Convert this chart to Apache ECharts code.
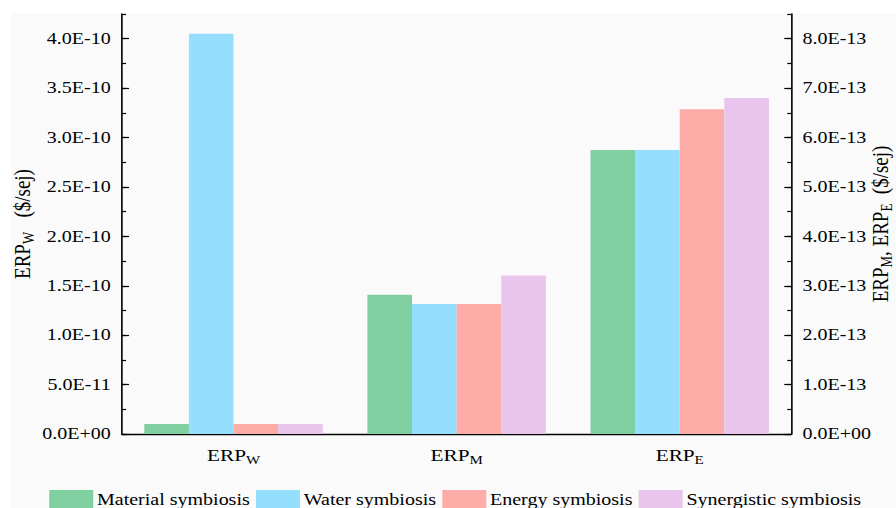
<!DOCTYPE html>
<html>
<head>
<meta charset="utf-8">
<script src="https://cdn.jsdelivr.net/npm/echarts@6/dist/echarts.min.js"></script>
<style>
  html, body { margin: 0; padding: 0; background: #ffffff; overflow: hidden; }
  /* Serif glyphs in this figure are set wide; the chart is laid out narrow and stretched horizontally. */
  #chart { width: 716.8px; height: 508px; transform: scaleX(1.25); transform-origin: 0 0; }
</style>
</head>
<body>
<div id="chart"></div>
<script>
// Categories (ERP + subscript)
const categoryBase = 'ERP';
const categorySubs = ['W', 'M', 'E'];

const seriesNames = ['Material symbiosis', 'Water symbiosis', 'Energy symbiosis', 'Synergistic symbiosis'];
const seriesColors = ['#80CFA0', '#95DEFD', '#FEACA8', '#E9C4EC'];

// ERP_W values ($/sej), left axis, one per symbiosis type
const erpW = [1.0e-11, 4.05e-10, 1.0e-11, 1.0e-11];
// ERP_M and ERP_E values ($/sej), right axis
const erpM = [2.82e-13, 2.63e-13, 2.63e-13, 3.21e-13];
const erpE = [5.75e-13, 5.75e-13, 6.57e-13, 6.80e-13];

// Tick values and labels
const leftTickValues = [0, 5e-11, 1.0e-10, 1.5e-10, 2.0e-10, 2.5e-10, 3.0e-10, 3.5e-10, 4.0e-10];
const leftTickLabels = ['0.0E+00', '5.0E-11', '1.0E-10', '1.5E-10', '2.0E-10', '2.5E-10', '3.0E-10', '3.5E-10', '4.0E-10'];
const rightTickValues = [0, 1e-13, 2e-13, 3e-13, 4e-13, 5e-13, 6e-13, 7e-13, 8e-13];
const rightTickLabels = ['0.0E+00', '1.0E-13', '2.0E-13', '3.0E-13', '4.0E-13', '5.0E-13', '6.0E-13', '7.0E-13', '8.0E-13'];
const leftMax = 4.25e-10, leftMinorStep = 2.5e-11;
const rightMax = 8.5e-13, rightMinorStep = 5e-14;

const FONT = 'Liberation Serif';
const INK = '#000000';
const categories = categorySubs.map(s => categoryBase + '_' + s);

function labelFor(values, labels, tol) {
  return function (v) {
    const i = values.findIndex(t => Math.abs(t - v) < tol);
    return i >= 0 ? labels[i] : '';
  };
}

const richText = {
  m: { fontFamily: FONT, fontSize: 17, color: INK },
  s: { fontFamily: FONT, fontSize: 12, color: INK, padding: [9, 0, 0, 0] }
};
const nameRich = {
  m: { fontFamily: FONT, fontSize: 19, color: INK },
  s: { fontFamily: FONT, fontSize: 13, color: INK, padding: [10, 0, 0, 0] }
};

const axisLineStyle = { color: INK, width: 1.3 };

const series = [];
seriesNames.forEach((name, k) => {
  series.push({
    name, type: 'bar', xAxisIndex: 0, yAxisIndex: 0,
    data: [erpW[k], '-', '-'],
    itemStyle: { color: seriesColors[k] },
    barGap: '0%', barCategoryGap: '20%'
  });
});
seriesNames.forEach((name, k) => {
  series.push({
    name, type: 'bar', xAxisIndex: 1, yAxisIndex: 1,
    data: ['-', erpM[k], erpE[k]],
    itemStyle: { color: seriesColors[k] },
    barGap: '0%', barCategoryGap: '20%'
  });
});

const chart = echarts.init(document.getElementById('chart'), null, { renderer: 'svg' });
chart.setOption({
  animation: false,
  backgroundColor: 'transparent',
  graphic: [{
    type: 'rect', z: -10, silent: true,
    shape: { x: 8.8, y: 13, width: 720, height: 500 },
    style: { fill: '#FAFAFA' }
  }],
  grid: { left: 97.6, right: 84, top: 14, bottom: 74, containLabel: false, outerBoundsMode: 'none' },
  legend: {
    data: seriesNames,
    left: 34.4, top: 485,
    icon: 'rect', itemWidth: 35.2, itemHeight: 20, itemGap: 5,
    textStyle: { fontFamily: FONT, fontSize: 16, color: INK, padding: [0, 0, 0, -2] }
  },
  xAxis: [
    {
      type: 'category', data: categories, position: 'bottom',
      axisLine: { lineStyle: axisLineStyle },
      axisTick: { inside: true, alignWithLabel: true, length: 4, lineStyle: { color: INK, width: 1.2 } },
      axisLabel: {
        margin: 11,
        formatter: v => '{m|' + categoryBase + '}{s|' + v.split('_')[1] + '}',
        rich: richText
      },
      splitLine: { show: false }
    },
    {
      type: 'category', data: categories, position: 'bottom',
      axisLine: { show: false },
      axisTick: { inside: true, length: 4, lineStyle: { color: INK, width: 1.2 } },
      axisLabel: { show: false },
      splitLine: { show: false }
    }
  ],
  yAxis: [
    {
      type: 'value', position: 'left', min: 0, max: leftMax, interval: leftMinorStep,
      name: '{m|ERP}{s|W}{m|   ($/sej)}', nameLocation: 'middle', nameGap: 68, nameRotate: 90,
      nameMoveOverlap: false,
      nameTextStyle: { rich: nameRich },
      axisLine: { show: true, lineStyle: axisLineStyle },
      axisTick: { show: true, inside: true, length: 5.6, customValues: leftTickValues, lineStyle: { color: INK, width: 1.2 } },
      axisLabel: {
        customValues: leftTickValues, margin: 9,
        fontFamily: FONT, fontSize: 16, color: INK,
        formatter: labelFor(leftTickValues, leftTickLabels, 1e-13)
      },
      splitLine: { show: false }
    },
    {
      type: 'value', position: 'right', min: 0, max: rightMax, interval: rightMinorStep,
      name: '{m|ERP}{s|M}{m|, ERP}{s|E}{m|  ($/sej)}', nameLocation: 'middle', nameGap: 60, nameRotate: 90,
      nameMoveOverlap: false,
      nameTextStyle: { rich: nameRich },
      axisLine: { show: true, lineStyle: axisLineStyle },
      axisTick: { show: true, inside: true, length: 5.6, customValues: rightTickValues, lineStyle: { color: INK, width: 1.2 } },
      axisLabel: {
        customValues: rightTickValues, margin: 9,
        fontFamily: FONT, fontSize: 16, color: INK,
        formatter: labelFor(rightTickValues, rightTickLabels, 1e-16)
      },
      splitLine: { show: false }
    },
    {
      type: 'value', position: 'left', min: 0, max: leftMax, interval: leftMinorStep,
      axisLine: { show: false },
      axisTick: { show: true, inside: true, length: 3.2, lineStyle: { color: INK, width: 1.2 } },
      axisLabel: { show: false },
      splitLine: { show: false }
    },
    {
      type: 'value', position: 'right', min: 0, max: rightMax, interval: rightMinorStep,
      axisLine: { show: false },
      axisTick: { show: true, inside: true, length: 3.2, lineStyle: { color: INK, width: 1.2 } },
      axisLabel: { show: false },
      splitLine: { show: false }
    }
  ],
  series
});
</script>
</body>
</html>
